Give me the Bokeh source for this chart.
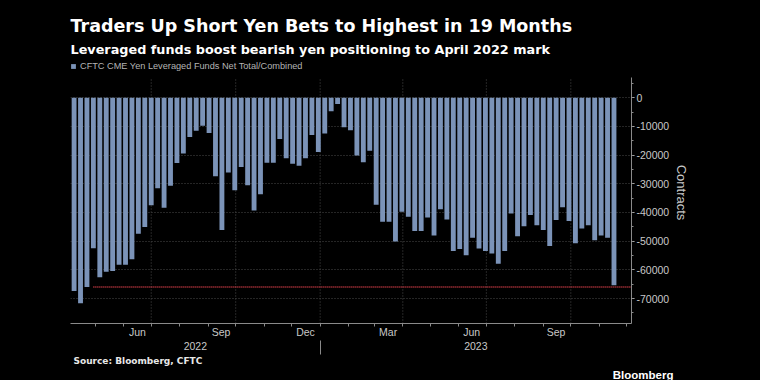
import pandas as pd
from datetime import datetime
from bokeh.plotting import figure
from bokeh.models import (Range1d, FixedTicker, DatetimeAxis, Legend, LegendItem,
                          Title, ColumnDataSource, GlobalInlineStyleSheet)
from bokeh.embed import file_html
from bokeh.resources import INLINE

# ---------------- data ----------------
first_week = "2022-04-08"
n_weeks = 85
net_contracts = [
    -67400, -71600, -66000, -52500, -62600, -60700, -60400, -58200, -58200, -56300,
    -47400, -45100, -37500, -31600, -38400, -30700, -22800, -19500, -13700, -11500,
    -9800, -12300, -27400, -46100, -26100, -32300, -24200, -30500, -39300, -33700,
    -22700, -22700, -14400, -21100, -23000, -23700, -21100, -13000, -18900, -12500,
    -4700, -2200, -10300, -11400, -20200, -22500, -18500, -37300, -43200, -43200,
    -50100, -39800, -41500, -46500, -46500, -41800, -48000, -38900, -42500, -53400,
    -52700, -54900, -48800, -52600, -53400, -54300, -57900, -53400, -40400, -48300,
    -44800, -40900, -44500, -46100, -51700, -42600, -38200, -43000, -50700, -45600,
    -44500, -49700, -48000, -48800, -65400,
]
series_name = "CFTC CME Yen Leveraged Funds Net Total/Combined"

month_labels = ["Jun", "Sep", "Dec", "Mar", "Jun", "Sep"]
month_label_dates = ["2022-06-16", "2022-09-15", "2022-12-16",
                     "2023-03-16", "2023-06-15", "2023-09-15"]
year_labels = ["2022", "2023"]
y_ticks = [0, -10000, -20000, -30000, -40000, -50000, -60000, -70000]
y_tick_labels = ["0", "-10000", "-20000", "-30000", "-40000", "-50000", "-60000", "-70000"]

title_text = "Traders Up Short Yen Bets to Highest in 19 Months"
subtitle_text = "Leveraged funds boost bearish yen positioning to April 2022 mark"
source_text = "Source: Bloomberg, CFTC"
brand_text = "Bloomberg"

# ---------------- helpers ----------------
def ms(d):
    return float(pd.Timestamp(d).value // 10**6)

dates = pd.date_range(first_week, periods=n_weeks, freq="7D")
src = ColumnDataSource(dict(date=dates, value=net_contracts))

x_start = datetime(2022, 4, 4, 2)
x_end = datetime(2023, 12, 6, 2)
DAY = 86400000.0
y_bottom, y_axis_top, y_frame_top = -78700, 7000, 12600

month_starts = [ms(d) for d in pd.date_range("2022-05-01", "2023-12-01", freq="MS")]
quarter_starts = [ms(d) for d in pd.date_range("2022-07-01", "2023-10-01", freq="QS")]
label_ticks = [ms(d) for d in month_label_dates]
year_break = ms("2023-01-01")
year_ticks = [float(round((ms(x_start) + year_break) / 2)), float(round((year_break + ms(x_end)) / 2))]

BG = "#000000"
AXIS = "#8a8a8a"
TXT = "#c8c8c8"
BAR = "#7b93b8"
GRID = "#4a4a4a"

W, H = 744, 380
BL, BR, BT, BB = 70, 113, 61, 57

p = figure(width=W, height=H, x_axis_type="datetime", y_axis_location="right",
           x_range=Range1d(start=x_start, end=x_end),
           y_range=Range1d(start=y_bottom, end=y_frame_top),
           output_backend="svg", toolbar_location=None,
           background_fill_color=BG, border_fill_color=BG, outline_line_color=None,
           min_border_left=BL, min_border_right=BR, min_border_top=BT, min_border_bottom=BB)

# grids (vertical lines drawn only up to the axis top)
p.xgrid.visible = False
p.ygrid.ticker = FixedTicker(ticks=y_ticks)
p.ygrid.grid_line_color = GRID
p.ygrid.grid_line_dash = "1 2"
p.segment(x0=quarter_starts, y0=[y_bottom] * len(quarter_starts),
          x1=quarter_starts, y1=[y_axis_top] * len(quarter_starts),
          line_color=GRID, line_width=1, line_dash="1 2")

# bars
bars = p.vbar(x="date", top="value", bottom=0, width=5.3 * DAY, source=src,
              fill_color=BAR, line_color=None)

# April 2022 reference level
april_2022_level = net_contracts[2]
p.segment(x0=[ms(dates[3])], y0=[april_2022_level], x1=[ms(x_end)], y1=[april_2022_level],
          line_color="#e0404c", line_width=1.5, line_dash="1 1")

# x axis (months)
xa = p.xaxis[0]
xa.ticker = FixedTicker(ticks=label_ticks, minor_ticks=month_starts)
xa.major_label_overrides = {t: l for t, l in zip(label_ticks, month_labels)}
xa.axis_line_color = AXIS
xa.major_tick_line_color = None
xa.major_tick_out = 0
xa.major_tick_in = 0
xa.minor_tick_line_color = AXIS
xa.minor_tick_out = 3
xa.minor_tick_in = 0
xa.major_label_standoff = -1
xa.major_label_text_color = TXT
xa.major_label_text_font = "Liberation Sans"
xa.major_label_text_font_size = "10.5px"

# x axis (years) with the year divider
ya2 = DatetimeAxis(ticker=FixedTicker(ticks=year_ticks, minor_ticks=[year_break]))
ya2.major_label_overrides = {t: l for t, l in zip(year_ticks, year_labels)}
ya2.axis_line_color = None
ya2.major_tick_line_color = None
ya2.major_tick_out = 0
ya2.major_tick_in = 0
ya2.minor_tick_line_color = AXIS
ya2.minor_tick_in = 0
ya2.minor_tick_out = 14
ya2.major_label_standoff = -13
ya2.major_label_text_color = TXT
ya2.major_label_text_font = "Liberation Sans"
ya2.major_label_text_font_size = "10.5px"
p.add_layout(ya2, "below")

# y axis (right)
yax = p.yaxis[0]
yax.bounds = (y_bottom, y_axis_top)
yax.ticker = FixedTicker(ticks=y_ticks, minor_ticks=list(range(5000, -80000, -5000)))
yax.major_label_overrides = {t: l for t, l in zip(y_ticks, y_tick_labels)}
yax.axis_line_color = AXIS
yax.major_tick_line_color = "#bbbbbb"
yax.major_tick_out = 3
yax.major_tick_in = 0
yax.minor_tick_line_color = AXIS
yax.minor_tick_out = 2
yax.minor_tick_in = 0
yax.major_label_standoff = 2
yax.major_label_text_color = TXT
yax.major_label_text_font = "Liberation Sans"
yax.major_label_text_font_size = "10.5px"
yax.axis_label = "Contracts"
yax.axis_label_text_color = TXT
yax.axis_label_text_font = "Liberation Sans"
yax.axis_label_text_font_style = "normal"
yax.axis_label_text_font_size = "13px"
yax.axis_label_standoff = 2

# legend at the top of the frame
legend = Legend(items=[LegendItem(label=series_name, renderers=[bars])],
                location="top_left", orientation="horizontal",
                background_fill_alpha=0, border_line_color=None,
                label_text_color="#b4b4b4", label_text_font="Liberation Sans",
                label_text_font_size="9.2px", glyph_width=6, glyph_height=6,
                label_standoff=4, label_height=10, padding=7, margin=0)
p.add_layout(legend)

# subtitle and title
p.add_layout(Title(text=subtitle_text, align="left", text_font="DejaVu Sans",
                   text_font_style="bold", text_font_size="12.8px", text_color="#ffffff",
                   standoff=9), "above")
p.title.text = title_text
p.title.align = "left"
p.title.text_font = "DejaVu Sans"
p.title.text_font_style = "bold"
p.title.text_font_size = "17.5px"
p.title.text_color = "#ffffff"
p.title.standoff = 0

# footer: source (left) and brand (right)
p.add_layout(Title(text=source_text, align="left", text_font="DejaVu Sans",
                   text_font_style="bold", text_font_size="9px", text_color="#e8e8e8",
                   standoff=2, offset=3), "below")
p.add_layout(Title(text=brand_text, align="right", text_font="Liberation Sans",
                   text_font_style="bold", text_font_size="11.5px", text_color="#ffffff",
                   standoff=0, offset=-42), "below")

p.stylesheets = [GlobalInlineStyleSheet(css="html, body { background: #000000; }")]

open("out.html", "w").write(file_html(p, INLINE))
